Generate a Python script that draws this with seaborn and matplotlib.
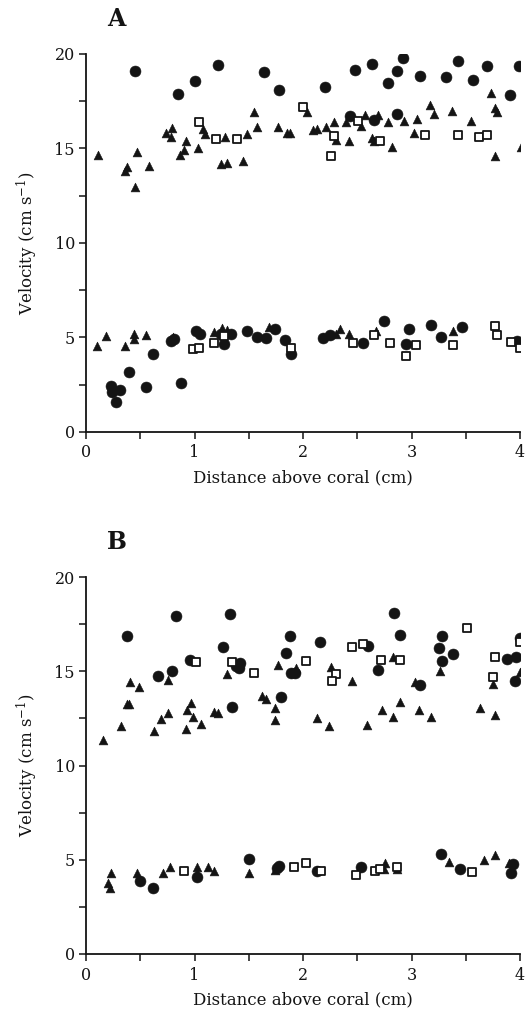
import numpy as np
import pandas as pd
import matplotlib
matplotlib.use("Agg")
import matplotlib.pyplot as plt
import seaborn as sns
from matplotlib.ticker import MultipleLocator

# ---------------- data ----------------
# Panel A
A_circ_x = [0.45, 0.85, 1.00, 1.22, 1.64, 1.78, 2.20, 2.48, 2.64, 2.92, 2.87, 2.78, 3.08, 3.32, 3.43, 3.57, 3.70, 3.99, 3.91,
            2.43, 2.65, 2.87,
            0.23, 0.24, 0.31, 0.28, 0.40, 0.55, 0.62, 0.88, 0.78, 0.81, 1.01, 1.05, 1.24, 1.27, 1.34, 1.48, 1.58, 1.66, 1.74,
            1.83, 1.89, 2.18, 2.25, 2.55, 2.75, 2.98, 2.95, 3.18, 3.27, 3.47, 3.97]
A_circ_y = [19.09, 17.89, 18.55, 19.43, 19.05, 18.09, 18.27, 19.13, 19.46, 19.79, 19.11, 18.45, 18.84, 18.77, 19.63, 18.61, 19.36, 19.38, 17.82,
            16.71, 16.50, 16.82,
            2.41, 2.14, 2.23, 1.57, 3.18, 2.39, 4.14, 2.61, 4.82, 4.91, 5.36, 5.18, 5.18, 4.64, 5.18, 5.32, 5.00, 4.96, 5.45,
            4.86, 4.11, 4.96, 5.14, 4.70, 5.89, 5.45, 4.64, 5.66, 5.04, 5.57, 4.79]

A_tri_x = [0.11, 0.36, 0.38, 0.45, 0.47, 0.58, 0.74, 0.79, 0.78, 0.87, 0.90, 0.92, 1.03, 1.08, 1.10, 1.24, 1.30, 1.28,
           1.45, 1.48, 1.55, 1.58, 1.77, 1.85, 1.88,
           2.04, 2.09, 2.13, 2.21, 2.29, 2.30, 2.42, 2.40, 2.57, 2.69, 2.53, 2.64, 2.65, 2.78, 2.82, 2.93, 3.02, 3.05,
           3.17, 3.21, 3.37, 3.55, 3.73, 3.77, 3.79, 3.77, 4.01,
           0.10, 0.18, 0.36, 0.44, 0.44, 0.55, 0.80, 1.18, 1.25, 1.30, 1.69, 2.30, 2.34, 2.42, 2.67, 3.38]
A_tri_y = [14.63, 13.79, 14.00, 12.95, 14.80, 14.10, 15.80, 16.07, 15.60, 14.68, 14.93, 15.39, 15.04, 16.02, 15.79, 14.20, 14.25, 15.63,
           14.36, 15.75, 16.95, 16.16, 16.14, 15.80, 15.80,
           16.95, 15.96, 16.04, 16.14, 16.41, 15.43, 15.39, 16.39, 16.77, 16.77, 16.18, 15.54, 15.39, 16.41, 15.09, 16.45, 15.80, 16.57,
           17.32, 16.82, 16.98, 16.46, 17.93, 17.13, 16.95, 14.59, 15.09,
           4.55, 5.09, 4.55, 4.91, 5.21, 5.14, 5.00, 5.27, 5.50, 5.40, 5.57, 5.21, 5.45, 5.21, 5.36, 5.32]

A_sq_x = [1.04, 1.20, 1.39, 2.00, 2.51, 2.29, 2.26, 2.71, 3.12, 3.43, 3.62, 3.70,
          0.99, 1.04, 1.18, 1.27, 1.89, 2.46, 2.65, 2.80, 2.95, 3.04, 3.38, 3.77, 3.79, 3.92, 4.00]
A_sq_y = [16.38, 15.48, 15.48, 17.20, 16.48, 15.64, 14.61, 15.38, 15.70, 15.70, 15.59, 15.70,
          4.38, 4.46, 4.73, 5.09, 4.43, 4.70, 5.12, 4.70, 4.02, 4.61, 4.61, 5.63, 5.11, 4.77, 4.43]

# Panel B
B_circ_x = [0.38, 0.83, 1.33, 1.88, 1.26, 1.84, 0.96, 0.66, 0.79, 1.38, 1.42, 1.41, 1.89, 1.93, 1.35, 1.80,
            2.84, 2.16, 2.89, 2.60, 2.69, 3.28, 3.25, 3.38, 3.28, 3.08, 3.88, 3.96, 4.00, 3.95,
            0.50, 0.62, 1.02, 1.50, 1.78, 1.76, 2.13, 2.53, 3.27, 3.45, 3.94, 3.92]
B_circ_y = [16.89, 17.93, 18.02, 16.89, 16.27, 15.95, 15.60, 14.75, 15.03, 15.28, 15.42, 15.15, 14.89, 14.89, 13.12, 13.62,
            18.11, 16.57, 16.94, 16.34, 15.07, 16.85, 16.25, 15.92, 15.56, 14.27, 15.63, 15.74, 16.75, 14.50,
            3.89, 3.48, 4.10, 5.02, 4.67, 4.54, 4.42, 4.63, 5.30, 4.49, 4.77, 4.28]

B_tri_x = [0.16, 0.32, 0.41, 0.49, 0.38, 0.40, 0.63, 0.69, 0.76, 0.76, 0.92, 0.93, 0.97, 0.99, 1.06, 1.18, 1.22, 1.30,
           1.62, 1.66, 1.74, 1.74, 1.77, 1.94,
           2.26, 2.45, 2.83, 3.03, 3.26, 3.75, 4.00, 2.13, 2.24, 2.59, 2.73, 2.83, 2.89, 3.07, 3.18, 3.63, 3.77,
           0.23, 0.20, 0.22, 0.47, 0.71, 0.77, 1.02, 1.02, 1.12, 1.18, 1.50, 1.74,
           2.75, 2.76, 2.87, 3.35, 3.67, 3.77, 3.90]
B_tri_y = [11.35, 12.10, 14.45, 14.15, 13.25, 13.25, 11.85, 12.45, 12.80, 14.54, 11.92, 12.94, 13.30, 12.56, 12.20, 12.86, 12.80, 14.84,
           13.70, 13.53, 13.03, 12.41, 15.33, 15.15,
           15.24, 14.48, 15.74, 14.45, 15.03, 14.32, 14.98, 12.50, 12.10, 12.17, 12.94, 12.59, 13.39, 12.94, 12.59, 13.03, 12.68,
           4.28, 3.78, 3.48, 4.31, 4.31, 4.63, 4.63, 4.28, 4.63, 4.42, 4.31, 4.46,
           4.49, 4.85, 4.49, 4.90, 4.99, 5.25, 4.81]

B_sq_x = [1.01, 1.35, 1.55, 2.03, 2.30, 2.27, 2.45, 2.55, 2.72, 2.89, 3.51, 3.77, 3.75, 4.00,
          0.90, 1.92, 2.03, 2.17, 2.49, 2.66, 2.71, 2.87, 3.56]
B_sq_y = [15.51, 15.51, 14.91, 15.57, 14.84, 14.50, 16.27, 16.45, 15.60, 15.58, 17.28, 15.74, 14.71, 16.57,
          4.40, 4.63, 4.81, 4.40, 4.19, 4.40, 4.49, 4.63, 4.37]

panel_labels = ["A", "B"]
x_label = "Distance above coral (cm)"
y_label = "Velocity (cm s$^{-1}$)"
x_ticks = [0, 1, 2, 3, 4]
y_ticks = [0, 5, 10, 15, 20]

# ---------------- style ----------------
sns.set_theme(style="white")
plt.rcParams["font.family"] = ["DejaVu Serif"]
plt.rcParams["mathtext.fontset"] = "dejavuserif"

W, H = 528, 1025
fig = plt.figure(figsize=(W / 100, H / 100), dpi=100)
fig.patch.set_facecolor("white")

ink = "#141414"

def frame(px_left, px_right, px_top, px_bottom):
    return [px_left / W, 1 - px_bottom / H, (px_right - px_left) / W, (px_bottom - px_top) / H]

axes_boxes = [frame(86, 520, 54, 432), frame(86, 520, 577, 954)]
data = [
    (A_circ_x, A_circ_y, A_tri_x, A_tri_y, A_sq_x, A_sq_y),
    (B_circ_x, B_circ_y, B_tri_x, B_tri_y, B_sq_x, B_sq_y),
]

for box, lab, (cx, cy, tx, ty, sx, sy) in zip(axes_boxes, panel_labels, data):
    ax = fig.add_axes(box)
    dfc = pd.DataFrame({"x": cx, "y": cy})
    dft = pd.DataFrame({"x": tx, "y": ty})
    dfs = pd.DataFrame({"x": sx, "y": sy})
    sns.scatterplot(data=dfc, x="x", y="y", ax=ax, marker="o", s=62, color=ink,
                    edgecolor=ink, linewidth=0.4, zorder=3)
    sns.scatterplot(data=dft, x="x", y="y", ax=ax, marker="^", s=40, color=ink,
                    edgecolor=ink, linewidth=0.4, zorder=4)
    sns.scatterplot(data=dfs, x="x", y="y", ax=ax, marker="s", s=30, color="white",
                    edgecolor=ink, linewidth=1.3, zorder=5)

    ax.set_xlim(0, 4)
    ax.set_ylim(0, 20)
    ax.set_xticks(x_ticks)
    ax.set_yticks(y_ticks)
    ax.xaxis.set_minor_locator(MultipleLocator(0.5))
    ax.yaxis.set_minor_locator(MultipleLocator(2.5))
    ax.tick_params(axis="both", which="both", direction="out", length=5, width=1.1,
                   color=ink, labelcolor=ink, labelsize=11.5)
    ax.tick_params(axis="x", which="both", bottom=True, pad=4)
    ax.tick_params(axis="y", which="both", left=True, pad=3)
    sns.despine(ax=ax)
    for sp in ["left", "bottom"]:
        ax.spines[sp].set_color(ink)
        ax.spines[sp].set_linewidth(1.3)
    ax.set_xlabel(x_label, fontsize=12, color=ink, labelpad=6)
    ax.set_ylabel(y_label, fontsize=12, color=ink, labelpad=10)
    ax.set_facecolor("white")
    ax.grid(False)
    ax.text(0.07, 1.06, lab, transform=ax.transAxes, fontsize=17, fontweight="bold",
            color=ink, ha="center", va="bottom")

fig.savefig("out.png", dpi=100, facecolor="white")
